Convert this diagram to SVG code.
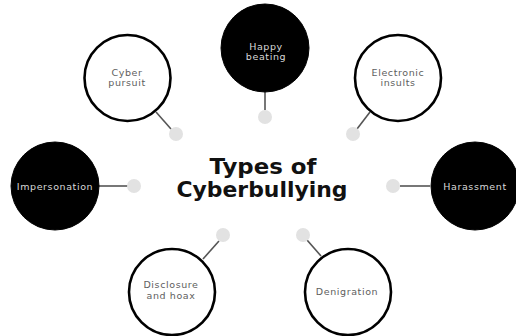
<svg xmlns="http://www.w3.org/2000/svg" width="516" height="336" viewBox="0 0 516 336">
<style>
.ring{fill:#fff;stroke:#000;stroke-width:2.6}
.solid{fill:#000;stroke:#000;stroke-width:1}
.lbl{font-family:"DejaVu Sans",sans-serif;font-size:9.5px;letter-spacing:0.6px;text-anchor:middle;fill:#5e5e5e}
.lblw{font-family:"DejaVu Sans",sans-serif;font-size:9.5px;letter-spacing:0.6px;text-anchor:middle;fill:#d8d8d8}
.title{font-family:"DejaVu Sans",sans-serif;font-weight:bold;font-size:20.5px;text-anchor:middle;fill:#111}
.con{stroke:#555;stroke-width:1.6;fill:none}
.dot{fill:#e2e2e2}
</style>
<rect width="516" height="336" fill="#fff"/>
<g id="connectors">
<line class="con" x1="156" y1="112" x2="171" y2="129"/>
<line class="con" x1="265" y1="92" x2="265" y2="110"/>
<line class="con" x1="370" y1="112" x2="357" y2="129"/>
<line class="con" x1="99" y1="186" x2="128" y2="186"/>
<line class="con" x1="430" y1="186" x2="400" y2="186"/>
<line class="con" x1="203" y1="259" x2="219" y2="241"/>
<line class="con" x1="321" y1="256" x2="307" y2="240"/>
<circle class="dot" cx="176" cy="134" r="7"/>
<circle class="dot" cx="265" cy="117" r="7"/>
<circle class="dot" cx="353" cy="134" r="7"/>
<circle class="dot" cx="134" cy="186" r="7"/>
<circle class="dot" cx="393" cy="186" r="7"/>
<circle class="dot" cx="223" cy="235" r="7"/>
<circle class="dot" cx="303" cy="235" r="7"/>
</g>
<g id="title">
<text class="title" x="263" y="174" textLength="107" lengthAdjust="spacingAndGlyphs">Types of</text>
<text class="title" x="262" y="197" textLength="171" lengthAdjust="spacingAndGlyphs">Cyberbullying</text>
</g>
<g id="cyber-pursuit">
<circle class="ring" cx="127.5" cy="78" r="43"/>
<text class="lbl" x="127" y="76">Cyber</text>
<text class="lbl" x="127" y="86">pursuit</text>
</g>
<g id="happy-beating">
<circle class="solid" cx="265" cy="48" r="44"/>
<text class="lblw" x="266" y="50">Happy</text>
<text class="lblw" x="266" y="60">beating</text>
</g>
<g id="electronic-insults">
<circle class="ring" cx="398" cy="78" r="43"/>
<text class="lbl" x="398" y="76">Electronic</text>
<text class="lbl" x="398" y="86">insults</text>
</g>
<g id="impersonation">
<circle class="solid" cx="55" cy="186" r="44"/>
<text class="lblw" x="55" y="190">Impersonation</text>
</g>
<g id="harassment">
<circle class="solid" cx="475" cy="186" r="44"/>
<text class="lblw" x="475" y="190">Harassment</text>
</g>
<g id="disclosure-and-hoax">
<circle class="ring" cx="172" cy="292" r="43"/>
<text class="lbl" x="171" y="288">Disclosure</text>
<text class="lbl" x="171" y="299">and hoax</text>
</g>
<g id="denigration">
<circle class="ring" cx="348" cy="292" r="43"/>
<text class="lbl" x="347" y="295">Denigration</text>
</g>
</svg>
